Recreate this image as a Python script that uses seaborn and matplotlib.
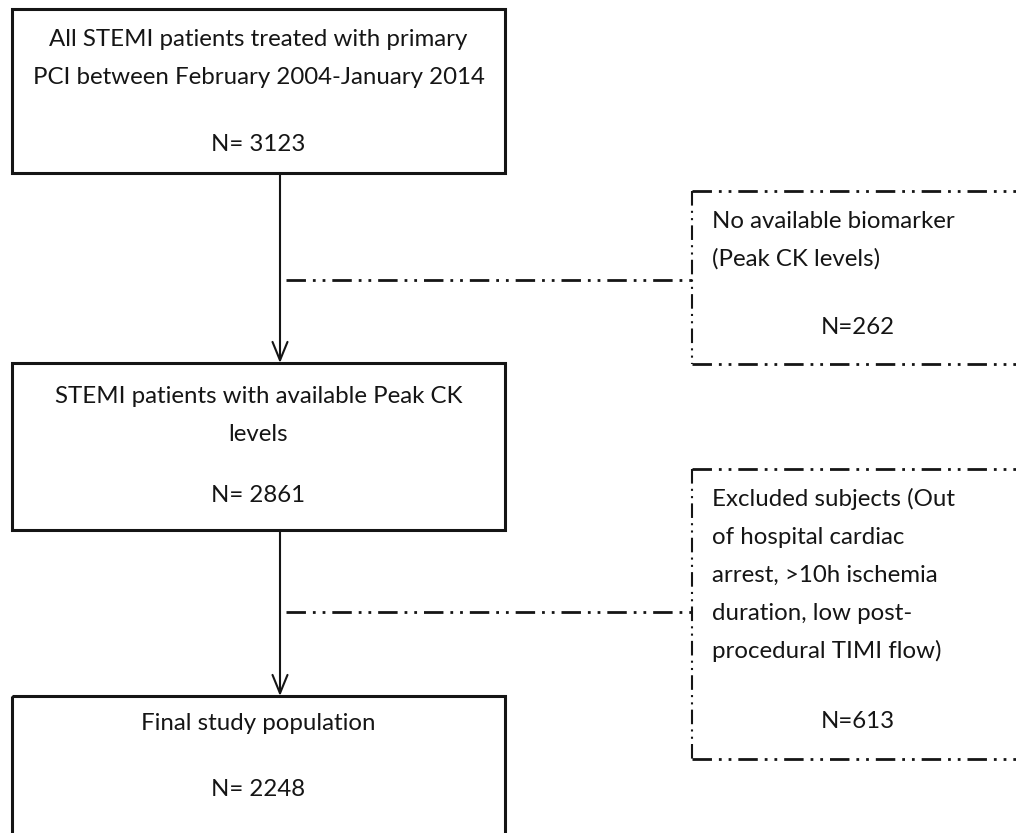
import matplotlib
matplotlib.use('Agg')
import matplotlib.pyplot as plt
import seaborn as sns
from matplotlib.patches import Rectangle

sns.set_theme(style='white')
plt.rcParams['font.family'] = ['Lato', 'DejaVu Sans']

# flowchart content
main_lines = [['All STEMI patients treated with primary',
               'PCI between February 2004-January 2014'],
              ['STEMI patients with available Peak CK', 'levels'],
              ['Final study population']]
main_n = [3123, 2861, 2248]
excl_lines = [['No available biomarker', '(Peak CK levels)'],
              ['Excluded subjects (Out', 'of hospital cardiac',
               'arrest, >10h ischemia', 'duration, low post-',
               'procedural TIMI flow)']]
excl_n = [262, 613]

# layout in pixel coordinates
main_boxes = [(12, 9, 173), (12, 363, 530), (12, 696, 900)]   # x0, top, bottom
box_w = 493
main_first = [39, 396, 724]
main_n_y = [144, 495, 790]
stem_x = 280
excl_boxes = [(692, 191, 364), (692, 469, 759)]
excl_first = [221, 499]
excl_n_y = [327, 722]
conn_y = [280, 612]
line_gap = 38
ink = '#151515'
dashdot = (0, (7, 2.5, 1, 2.5, 1, 2.5))

fig = plt.figure(figsize=(10.16, 8.33), dpi=100)
ax = fig.add_axes([0, 0, 1, 1])
ax.set_xlim(0, 1016)
ax.set_ylim(833, 0)
ax.axis('off')

fs = 17.3
for (x0, top, bot), lines, n, y0, ny in zip(main_boxes, main_lines, main_n,
                                            main_first, main_n_y):
    ax.add_patch(Rectangle((x0, top), box_w, bot - top, fill=False,
                           edgecolor=ink, lw=2.2))
    for k, s in enumerate(lines):
        ax.text(x0 + box_w / 2, y0 + k * line_gap, s, ha='center',
                va='center', fontsize=fs, color=ink)
    ax.text(x0 + box_w / 2, ny, f'N= {n}', ha='center', va='center',
            fontsize=fs, color=ink)

# vertical arrows between main boxes
for i in range(2):
    ax.annotate('', xy=(stem_x, main_boxes[i + 1][1]),
                xytext=(stem_x, main_boxes[i][2]),
                arrowprops=dict(arrowstyle='->,head_length=1.1,head_width=0.45',
                                lw=1.5, color=ink, shrinkA=0, shrinkB=0))

# exclusion boxes (open to the right edge)
for (x0, top, bot), lines, n, y0, ny, cy in zip(excl_boxes, excl_lines, excl_n,
                                                excl_first, excl_n_y, conn_y):
    ax.plot([x0, 1030], [top, top], color=ink, lw=2, linestyle=dashdot)
    ax.plot([x0, 1030], [bot, bot], color=ink, lw=2, linestyle=dashdot)
    ax.plot([x0, x0], [top, bot], color=ink, lw=1.5, linestyle=dashdot)
    for k, s in enumerate(lines):
        ax.text(x0 + 20, y0 + k * line_gap, s, ha='left', va='center',
                fontsize=fs, color=ink)
    ax.text(858, ny, f'N={n}', ha='center', va='center', fontsize=fs,
            color=ink)
    ax.plot([stem_x + 6, x0], [cy, cy], color=ink, lw=2, linestyle=dashdot)

fig.savefig('out.png', dpi=100)
